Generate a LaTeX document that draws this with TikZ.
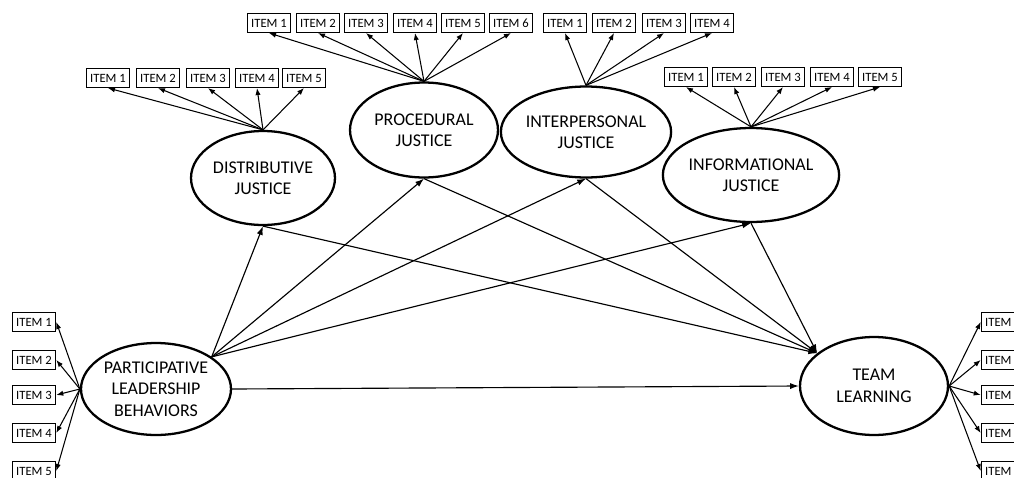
\documentclass[tikz,border=0pt]{standalone}
\usepackage{fontspec}
\setmainfont{Carlito}
\usetikzlibrary{shapes.geometric,arrows.meta}

\tikzset{
  latent/.style={ellipse, draw, line width=1.3pt, inner sep=0pt, align=center,
    font=\fontsize{10.2}{12.2}\selectfont},
  item/.style={rectangle, draw, line width=0.6pt, minimum width=0.87cm,
    minimum height=0.38cm, inner sep=0pt, font=\fontsize{7.2}{8}\selectfont},
  load/.style={-{Latex[length=4pt,width=3pt]}, line width=0.6pt},
  effect/.style={-{Latex[length=5pt,width=3.5pt]}, line width=0.65pt}
}

\begin{document}
\begin{tikzpicture}[x=0.02cm, y=-0.02cm]
    \useasboundingbox (0,0) rectangle (1014,477);
    \clip (0,0) rectangle (1014,477);
    % latent constructs
    \node[latent, minimum width=3.0cm, minimum height=1.84cm] (part) at (156,389) {PARTICIPATIVE\\LEADERSHIP\\BEHAVIORS};
    \node[latent, minimum width=2.96cm, minimum height=1.96cm] (team) at (874,386) {TEAM\\LEARNING};
    \node[latent, minimum width=2.88cm, minimum height=1.88cm] (dist) at (263,178) {DISTRIBUTIVE\\JUSTICE};
    \node[latent, minimum width=2.96cm, minimum height=1.9cm]  (proc) at (424,130) {PROCEDURAL\\JUSTICE};
    \node[latent, minimum width=2.96cm, minimum height=1.82cm] (inter) at (586,132) {INTERPERSONAL\\JUSTICE};
    \node[latent, minimum width=2.96cm, minimum height=1.88cm] (info) at (751,175) {INFORMATIONAL\\JUSTICE};
    % indicators
    \foreach \x [count=\i] in {108,158,208,257,304} {
      \node[item] (d\i) at (\x,78) {ITEM \i};
      \draw[load] (dist.north) -- (d\i.south);
    }
    \foreach \x [count=\i] in {269,318,366,415,463,511} {
      \node[item] (p\i) at (\x,23) {ITEM \i};
      \draw[load] (proc.north) -- (p\i.south);
    }
    \foreach \x [count=\i] in {565,614,664,712} {
      \node[item] (i\i) at (\x,23) {ITEM \i};
      \draw[load] (inter.north) -- (i\i.south);
    }
    \foreach \x [count=\i] in {686,734,783,832,880} {
      \node[item] (n\i) at (\x,77) {ITEM \i};
      \draw[load] (info.north) -- (n\i.south);
    }
    \foreach \y [count=\i] in {322,360,395,433,471} {
      \node[item] (l\i) at (34,\y) {ITEM \i};
      \draw[load] (part.west) -- (l\i.east);
      \node[item] (t\i) at (1003,\y) {ITEM \i};
      \draw[load] (team.east) -- (t\i.west);
    }
    % structural paths
    \foreach \j in {dist,proc,inter,info} {
      \draw[effect] (part.30) -- (\j.south);
      \draw[effect] (\j.south) -- (team.150);
    }
    \draw[effect] (part.east) -- (team.west);
\end{tikzpicture}
\end{document}
